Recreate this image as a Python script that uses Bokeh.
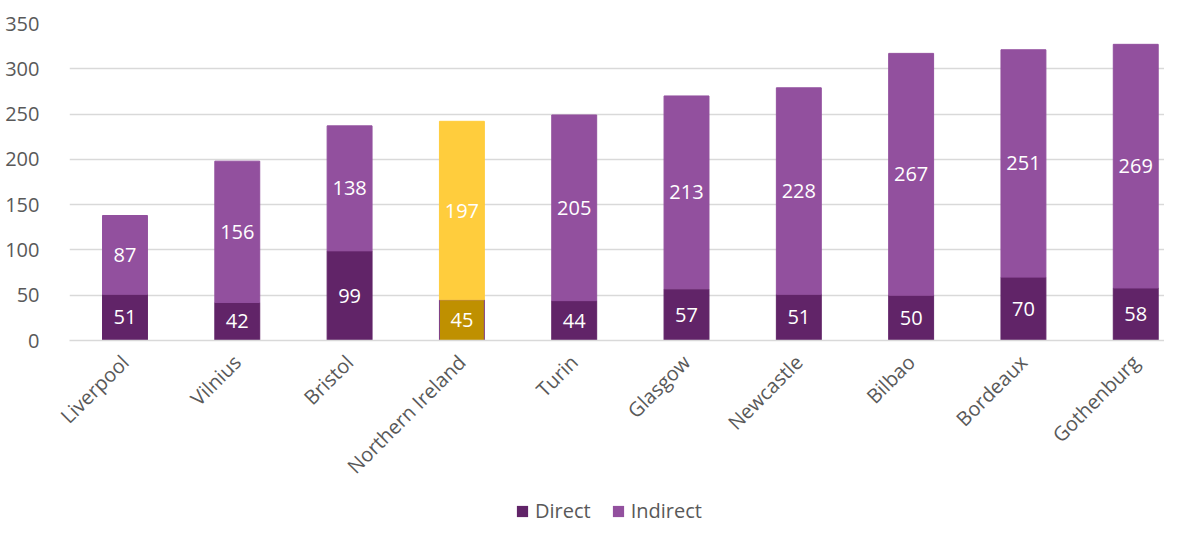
import math
from bokeh.plotting import figure
from bokeh.layouts import column
from bokeh.models import ColumnDataSource, FixedTicker, Legend, LegendItem
from bokeh.core.properties import value
from bokeh.embed import file_html
from bokeh.resources import INLINE

cities = ["Liverpool", "Vilnius", "Bristol", "Northern Ireland", "Turin",
          "Glasgow", "Newcastle", "Bilbao", "Bordeaux", "Gothenburg"]
direct = [51, 42, 99, 45, 44, 57, 51, 50, 70, 58]
indirect = [87, 156, 138, 197, 205, 213, 228, 267, 251, 269]
highlight = "Northern Ireland"
y_ticks = [0, 50, 100, 150, 200, 250, 300, 350]

C_DIRECT = "#612468"
C_INDIRECT = "#92509E"
C_HL_DIRECT = "#BF9000"
C_HL_INDIRECT = "#FFCD3D"
TXT = "#595959"
FONT = "Open Sans"

xs = list(range(len(cities)))
src = ColumnDataSource(dict(
    x=xs,
    direct=direct,
    indirect=indirect,
    total=[d + i for d, i in zip(direct, indirect)],
    d_mid=[d / 2 for d in direct],
    i_mid=[d + i / 2 for d, i in zip(direct, indirect)],
    d_lab=[str(v) for v in direct],
    i_lab=[str(v) for v in indirect],
    d_col=[C_HL_DIRECT if c == highlight else C_DIRECT for c in cities],
    i_col=[C_HL_INDIRECT if c == highlight else C_INDIRECT for c in cities],
    d_line=["#7B3A86" if c == highlight else C_DIRECT for c in cities],
    i_line=[C_HL_INDIRECT if c == highlight else C_INDIRECT for c in cities],
))

p = figure(width=1164, height=494, x_range=(-0.494, 9.256), y_range=(0, 350),
           output_backend="svg", toolbar_location=None,
           min_border_top=23, min_border_left=69, min_border_right=0,
           min_border_bottom=154)
p.outline_line_color = None
p.background_fill_color = "white"

p.vbar(x="x", top="direct", bottom=0, width=0.4, source=src,
       fill_color="d_col", line_color="d_line", line_width=1)
p.vbar(x="x", top="total", bottom="direct", width=0.4, source=src,
       fill_color="i_col", line_color="i_line", line_width=1)

for ycol, tcol in (("d_mid", "d_lab"), ("i_mid", "i_lab")):
    p.text(x="x", y=ycol, text=tcol, source=src, text_color="white",
           text_font=value(FONT), text_font_size="20px",
           text_align="center", text_baseline="middle")

p.xgrid.grid_line_color = None
p.ygrid.grid_line_color = "#D9D9D9"
p.ygrid.grid_line_width = 1.5
p.yaxis.ticker = FixedTicker(ticks=y_ticks)
p.xaxis.ticker = FixedTicker(ticks=xs)
p.xaxis.major_label_overrides = {i: c for i, c in enumerate(cities)}
p.xaxis.major_label_orientation = math.pi / 4

for ax in (p.xaxis, p.yaxis):
    ax.major_tick_line_color = None
    ax.minor_tick_line_color = None
    ax.major_label_text_font = FONT
    ax.major_label_text_font_size = "20px"
    ax.major_label_text_color = TXT
p.yaxis.axis_line_color = None
p.xaxis.axis_line_color = "#D9D9D9"
p.xaxis.axis_line_width = 1.5
p.yaxis.major_label_standoff = 24
p.xaxis.major_label_standoff = 12

# legend strip
lg = figure(width=1164, height=30, x_range=(0, 1), y_range=(0, 1),
            output_backend="svg", toolbar_location=None,
            min_border_left=69, min_border_right=0, min_border_top=0,
            min_border_bottom=0, x_axis_type=None, y_axis_type=None)
lg.outline_line_color = None
lg.xgrid.grid_line_color = None
lg.ygrid.grid_line_color = None
r_d = lg.vbar(x=[0.5], top=[0], bottom=[0], width=0.01,
              fill_color=C_DIRECT, line_alpha=0)
r_i = lg.vbar(x=[0.5], top=[0], bottom=[0], width=0.01,
              fill_color=C_INDIRECT, line_alpha=0)
legend = Legend(items=[LegendItem(label="Direct", renderers=[r_d]),
                       LegendItem(label="Indirect", renderers=[r_i])],
                orientation="horizontal", location=(446, 0),
                label_text_font=FONT, label_text_font_size="20px",
                label_text_color=TXT, glyph_width=14, glyph_height=14,
                spacing=20, padding=0, margin=0, border_line_color=None,
                background_fill_alpha=0, label_standoff=6)
lg.add_layout(legend, "center")

layout = column(p, lg, spacing=0)
open("out.html", "w").write(file_html(layout, INLINE))
